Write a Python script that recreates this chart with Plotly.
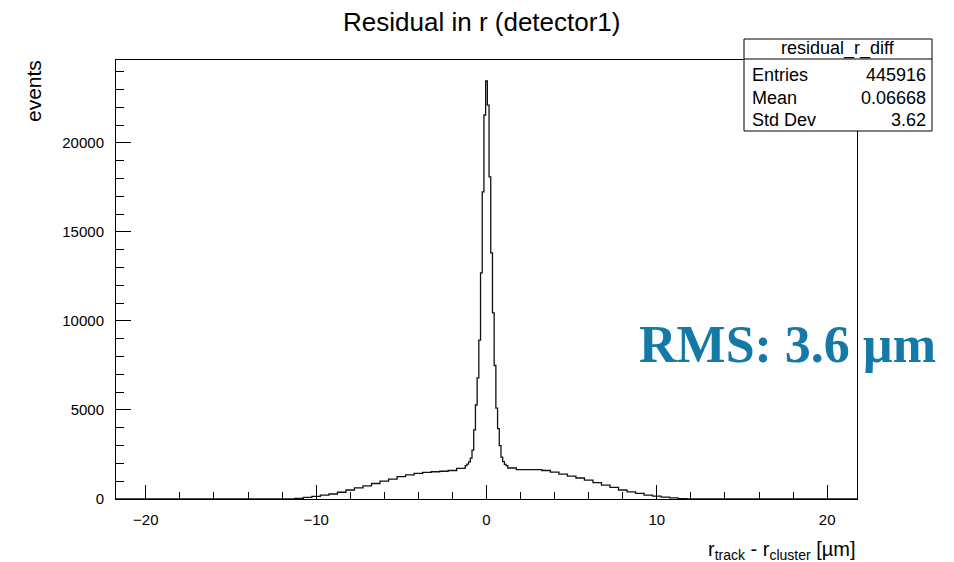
import numpy as np
import plotly.graph_objects as go

# ---------------- data ----------------
# 0.5-wide bins from -12.25 to -1.25 (centers -12.0 ... -1.5); heights are per 0.1 bin
broad_left_counts = [5, 10, 40, 90, 150, 220, 280, 380, 505, 620, 740, 870,
                     1000, 1120, 1260, 1360, 1440, 1490, 1530, 1560, 1600, 1720]
# 0.1-wide bins from -1.25 to 1.25 (centers -1.2 ... 1.2)
core_counts = [1880, 1960, 2080, 2300, 2750, 3880, 5280, 6800, 8930, 12700, 17250, 21570,
               23480,
               22130, 18090, 13820, 10450, 7500, 5100, 3950, 3000, 2350, 2100, 1950, 1880]
# 0.5-wide bins from 1.25 to 12.25 (centers 1.5 ... 12.0)
broad_right_counts = [1740, 1650, 1650, 1650, 1600, 1510, 1400, 1280, 1180, 1060, 920,
                      780, 650, 505, 400, 320, 220, 160, 100, 60, 25, 8]

hist_range = (-21.75, 21.75)
broad_width = 0.5
core_width = 0.1
core_half = 1.25
broad_outer = 12.25

stats_title = "residual_r_diff"
stats_labels = ["Entries", "Mean", "Std Dev"]
stats_values = ["445916", "0.06668", "3.62"]

title_text = "Residual in r (detector1)"
y_title = "events"
x_title = "r<sub>track</sub> - r<sub>cluster</sub> [µm]"
rms_text = "RMS: 3.6 µm"

y_tickvals = [0, 5000, 10000, 15000, 20000]
y_ticktext = ["0", "5000", "10000", "15000", "20000"]
x_tickvals = [-20, -10, 0, 10, 20]
x_ticktext = ["\u221220", "\u221210", "0", "10", "20"]

# ---------------- bin structure ----------------
left_edges = np.arange(-broad_outer, -core_half + 1e-9, broad_width)
core_edges = np.arange(-core_half, core_half + 1e-9, core_width)
right_edges = np.arange(core_half, broad_outer + 1e-9, broad_width)

edges = np.concatenate([[hist_range[0]], left_edges, core_edges[1:], right_edges[1:], [hist_range[1]]])
counts = np.concatenate([[0], broad_left_counts, core_counts, broad_right_counts, [0]])
assert len(edges) == len(counts) + 1

xs = list(edges)
ys = list(counts) + [counts[-1]]

# ---------------- layout geometry ----------------
FIG_W, FIG_H = 954, 562
L, R, T, B = 116, 97, 60, 63
PW = FIG_W - L - R
PH = FIG_H - T - B


def pxx(px):
    return (px - L) / PW


def pxy(py):
    return (FIG_H - B - py) / PH


FONT = "Liberation Sans, Arial, Helvetica, sans-serif"

fig = go.Figure()
fig.add_trace(go.Scatter(
    x=xs, y=ys, mode="lines", line=dict(shape="hv", color="#111111", width=1.3),
    hoverinfo="skip", showlegend=False,
))

fig.update_layout(
    width=FIG_W, height=FIG_H,
    margin=dict(l=L, r=R, t=T, b=B, pad=0),
    paper_bgcolor="white", plot_bgcolor="white",
    showlegend=False,
    title=dict(text=title_text, x=0.505, xref="container", xanchor="center",
               y=1 - 22 / FIG_H, yref="container", yanchor="middle",
               font=dict(family=FONT, size=26, color="black")),
)

fig.update_xaxes(
    range=list(hist_range), showgrid=False, zeroline=False,
    showline=True, mirror=True, linecolor="black", linewidth=1,
    tickmode="array", tickvals=x_tickvals, ticktext=x_ticktext,
    ticks="inside", ticklen=14, tickcolor="black", tickwidth=1,
    minor=dict(ticks="inside", ticklen=7, dtick=2, tick0=0, tickcolor="black", tickwidth=1, showgrid=False),
    tickfont=dict(family=FONT, size=15, color="black"),
    ticklabelstandoff=7,
)
fig.update_yaxes(
    range=[0, 24660], showgrid=False, zeroline=False,
    showline=True, mirror=True, linecolor="black", linewidth=1,
    tickmode="array", tickvals=y_tickvals, ticktext=y_ticktext,
    ticks="inside", ticklen=15, tickcolor="black", tickwidth=1,
    minor=dict(ticks="inside", ticklen=8, dtick=1000, tick0=0, tickcolor="black", tickwidth=1, showgrid=False),
    tickfont=dict(family=FONT, size=15, color="black"),
    ticklabelstandoff=8,
)

# axis titles
fig.add_annotation(text=y_title, xref="paper", yref="paper", x=pxx(33), y=pxy(91),
                   textangle=-90, showarrow=False, xanchor="center", yanchor="middle",
                   font=dict(family=FONT, size=21, color="black"))
fig.add_annotation(text=x_title, xref="paper", yref="paper", x=pxx(858), y=pxy(550),
                   showarrow=False, xanchor="right", yanchor="middle",
                   font=dict(family=FONT, size=20, color="black"))

# stats box
bx0, bx1, by0, by1, bsep = 744, 932, 39, 131, 59
fig.add_shape(type="rect", xref="paper", yref="paper",
              x0=pxx(bx0), x1=pxx(bx1), y0=pxy(by1), y1=pxy(by0),
              line=dict(color="black", width=1), fillcolor="white", layer="above")
fig.add_shape(type="line", xref="paper", yref="paper",
              x0=pxx(bx0), x1=pxx(bx1), y0=pxy(bsep), y1=pxy(bsep),
              line=dict(color="black", width=1), layer="above")
fig.add_annotation(text=stats_title, xref="paper", yref="paper",
                   x=pxx((bx0 + bx1) / 2), y=pxy(49), showarrow=False,
                   xanchor="center", yanchor="middle",
                   font=dict(family=FONT, size=18, color="black"))
row_y = [75, 98, 120]
for lab, val, ry in zip(stats_labels, stats_values, row_y):
    fig.add_annotation(text=lab, xref="paper", yref="paper", x=pxx(bx0 + 6), y=pxy(ry),
                       showarrow=False, xanchor="left", yanchor="middle",
                       font=dict(family=FONT, size=18, color="black"))
    fig.add_annotation(text=val, xref="paper", yref="paper", x=pxx(bx1 - 4), y=pxy(ry),
                       showarrow=False, xanchor="right", yanchor="middle",
                       font=dict(family=FONT, size=18, color="black"))

# RMS label
fig.add_annotation(text="<b>" + rms_text + "</b>", xref="paper", yref="paper",
                   x=pxx(787), y=pxy(344), showarrow=False,
                   xanchor="center", yanchor="middle",
                   font=dict(family="Liberation Serif, Times New Roman, serif", size=52, color="#1479a7"))

fig.write_html("out.html")
